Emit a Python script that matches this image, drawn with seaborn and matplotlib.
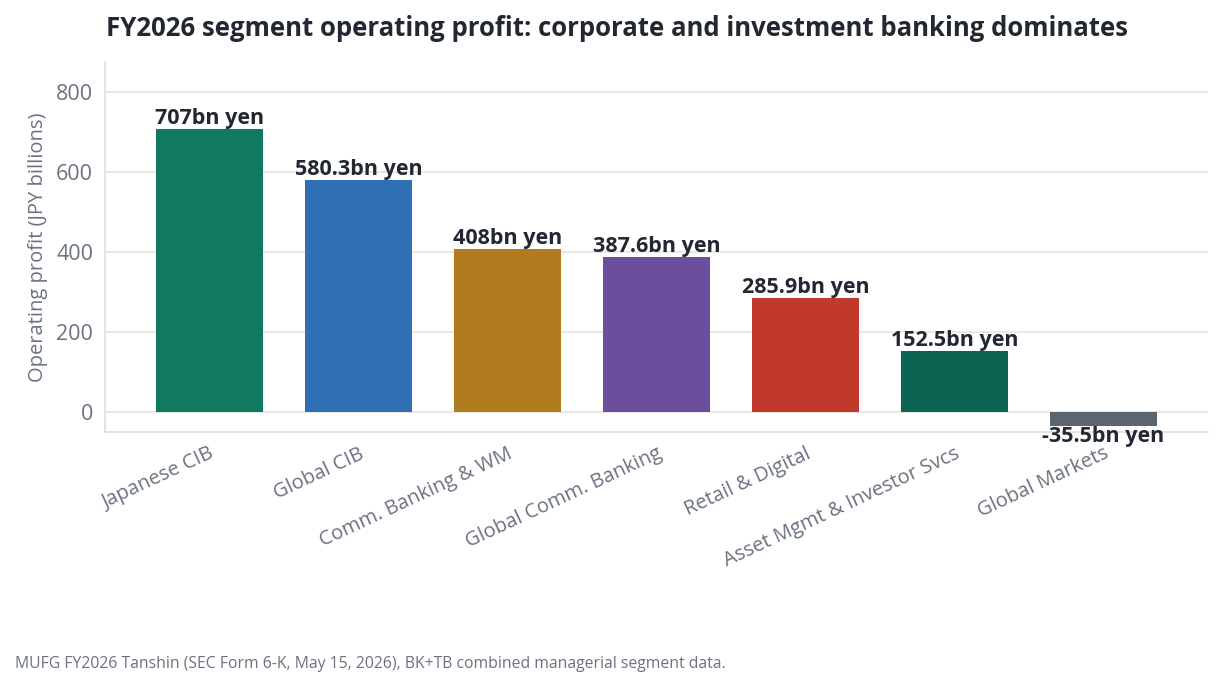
import pandas as pd
import matplotlib
matplotlib.use("Agg")
import matplotlib.pyplot as plt
import seaborn as sns

# segment data (JPY billions)
segments = ["Japanese CIB", "Global CIB", "Comm. Banking & WM", "Global Comm. Banking",
            "Retail & Digital", "Asset Mgmt & Investor Svcs", "Global Markets"]
profit = [707, 580.3, 408, 387.6, 285.9, 152.5, -35.5]
colors = ["#0f7a60", "#2f6fb3", "#b07c1f", "#6b4f9e", "#c0392b", "#0d6452", "#5c6470"]

df = pd.DataFrame({"segment": segments, "profit": profit})

sns.set_theme(style="white")
plt.rcParams['font.family'] = ['Open Sans', 'DejaVu Sans']

fig = plt.figure(figsize=(12.22, 6.89), dpi=100)
ax = fig.add_axes([0.0859, 0.373, 0.9026, 0.537])

sns.barplot(data=df, x="segment", y="profit", hue="segment", palette=colors,
            width=0.72, legend=False, ax=ax, saturation=1, edgecolor="none")

for cont in ax.containers:
    ax.bar_label(cont, labels=[f"{v:g}bn yen" for v in cont.datavalues],
                 padding=0, fontsize=15.5, fontweight="bold", color="#222831")

ax.set_ylim(-50, 875)
ax.set_xlim(-0.7, 6.7)
ax.set_yticks([0, 200, 400, 600, 800])
ax.yaxis.grid(True, color="#e8e4de", linewidth=1.2)
ax.set_axisbelow(True)

for side in ["top", "right"]:
    ax.spines[side].set_visible(False)
for side in ["left", "bottom"]:
    ax.spines[side].set_color("#e2ded8")
    ax.spines[side].set_linewidth(1.2)

ax.tick_params(axis="both", length=5, color="#6b7280", labelcolor="#6b7280", labelsize=14.5)
ax.tick_params(axis="y", labelsize=15.5)
plt.setp(ax.get_xticklabels(), rotation=25, ha="right", rotation_mode="anchor")

ax.set_xlabel("")
ax.set_ylabel("Operating profit (JPY billions)", fontsize=14.5, color="#6b7280", labelpad=6)

fig.text(0.087, 0.958, "FY2026 segment operating profit: corporate and investment banking dominates",
         fontsize=18.5, fontweight="bold", color="#222831", va="center")
fig.text(0.012, 0.037, "MUFG FY2026 Tanshin (SEC Form 6-K, May 15, 2026), BK+TB combined managerial segment data.",
         fontsize=11.3, color="#6b7280", va="center")

fig.savefig("out.png", dpi=100)
